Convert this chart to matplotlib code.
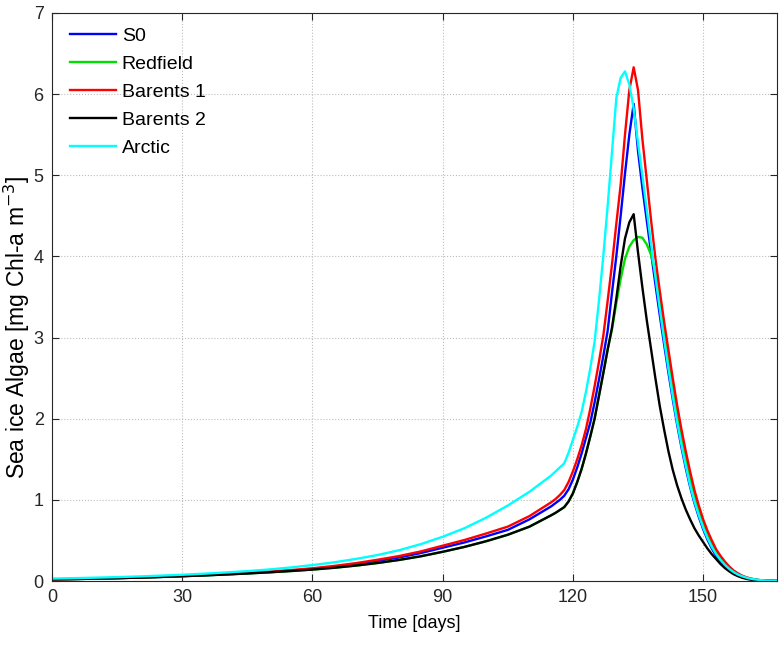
import matplotlib
matplotlib.use("Agg")
import matplotlib.pyplot as plt

plt.rcParams['font.family'] = ['Liberation Sans', 'DejaVu Sans']

days = list(range(0, 116, 5)) + list(range(116, 168))

s0 = [0.02, 0.024, 0.029, 0.035, 0.042, 0.05, 0.06, 0.07, 0.082, 0.095, 0.11, 0.127,
      0.147, 0.175, 0.208, 0.247, 0.29, 0.345, 0.41, 0.475, 0.55, 0.63, 0.76, 0.92,
      0.96, 1.0, 1.05,
      1.13, 1.25, 1.4, 1.57, 1.76, 1.95, 2.2, 2.48, 2.77, 3.08, 3.55, 4.0, 4.5, 5.02, 5.5,
      5.88, 5.3, 4.85, 4.45, 4.05, 3.66, 3.28, 2.92, 2.57, 2.24, 1.93, 1.65, 1.39, 1.16,
      0.96, 0.79, 0.64, 0.51, 0.4, 0.31, 0.24, 0.18, 0.135, 0.1, 0.072, 0.05, 0.035,
      0.023, 0.015, 0.009, 0.005, 0.003, 0.002, 0.001]

redfield = [0.02, 0.024, 0.029, 0.035, 0.042, 0.05, 0.059, 0.069, 0.08, 0.093, 0.107, 0.123,
            0.141, 0.163, 0.19, 0.222, 0.26, 0.305, 0.36, 0.42, 0.49, 0.57, 0.67, 0.81,
            0.84, 0.875, 0.91,
            0.98, 1.08, 1.22, 1.38, 1.57, 1.78, 2.0, 2.28, 2.56, 2.85, 3.1, 3.42, 3.72, 3.97, 4.12,
            4.2, 4.24, 4.23, 4.15, 4.02, 3.8, 3.5, 3.12, 2.75, 2.4, 2.07, 1.77, 1.5, 1.26,
            1.05, 0.87, 0.71, 0.57, 0.46, 0.36, 0.28, 0.22, 0.16, 0.12, 0.085, 0.06, 0.042,
            0.028, 0.018, 0.011, 0.006, 0.003, 0.002, 0.001]

barents1 = [0.02, 0.025, 0.03, 0.036, 0.043, 0.052, 0.062, 0.073, 0.086, 0.1, 0.116, 0.135,
            0.157, 0.186, 0.22, 0.262, 0.308, 0.365, 0.435, 0.505, 0.585, 0.67, 0.8, 0.97,
            1.01, 1.06, 1.12,
            1.22, 1.35, 1.5, 1.67, 1.87, 2.12, 2.4, 2.7, 3.02, 3.45, 3.9, 4.4, 4.88, 5.5, 6.05,
            6.33, 6.05, 5.45, 4.95, 4.45, 3.98, 3.58, 3.2, 2.85, 2.5, 2.17, 1.87, 1.6, 1.35,
            1.12, 0.93, 0.76, 0.62, 0.5, 0.39, 0.31, 0.24, 0.18, 0.13, 0.095, 0.065, 0.045,
            0.03, 0.018, 0.011, 0.006, 0.003, 0.002, 0.001]

barents2 = [0.02, 0.024, 0.029, 0.035, 0.042, 0.05, 0.059, 0.069, 0.08, 0.093, 0.107, 0.123,
            0.141, 0.163, 0.19, 0.222, 0.26, 0.305, 0.36, 0.42, 0.49, 0.57, 0.67, 0.81,
            0.84, 0.875, 0.91,
            0.98, 1.08, 1.22, 1.38, 1.57, 1.78, 2.0, 2.28, 2.56, 2.85, 3.12, 3.48, 3.88, 4.22, 4.42,
            4.52, 4.05, 3.62, 3.22, 2.86, 2.5, 2.16, 1.87, 1.6, 1.37, 1.18, 1.02, 0.88, 0.76,
            0.65, 0.56, 0.48, 0.4, 0.33, 0.27, 0.21, 0.16, 0.12, 0.085, 0.06, 0.04, 0.026,
            0.016, 0.01, 0.006, 0.003, 0.002, 0.001, 0.0]

arctic = [0.03, 0.035, 0.041, 0.048, 0.056, 0.066, 0.077, 0.09, 0.105, 0.122, 0.142, 0.167,
          0.196, 0.23, 0.272, 0.32, 0.38, 0.455, 0.545, 0.65, 0.78, 0.93, 1.1, 1.3,
          1.35, 1.4, 1.45,
          1.58, 1.74, 1.9, 2.08, 2.33, 2.62, 2.95, 3.45, 4.0, 4.62, 5.28, 5.95, 6.2, 6.28, 6.12,
          5.82, 5.4, 5.0, 4.58, 4.16, 3.75, 3.36, 2.98, 2.62, 2.28, 1.96, 1.68, 1.42, 1.18,
          0.98, 0.81, 0.66, 0.53, 0.42, 0.33, 0.26, 0.2, 0.15, 0.11, 0.08, 0.058, 0.041,
          0.028, 0.019, 0.013, 0.008, 0.005, 0.003, 0.002]

labels = ['S0', 'Redfield', 'Barents 1', 'Barents 2', 'Arctic']
colors = ['#0000ff', '#00e000', '#ff0000', '#000000', '#00ffff']
series = [s0, redfield, barents1, barents2, arctic]

xticks = [0, 30, 60, 90, 120, 150]
yticks = [0, 1, 2, 3, 4, 5, 6, 7]

fig = plt.figure(figsize=(7.82, 6.47), dpi=100)
ax = fig.add_axes([0.0665, 0.102, 0.927, 0.878])

for ys, c, lab in zip(series, colors, labels):
    ax.plot(days, ys, color=c, lw=1.7, label=lab)

ax.set_xlim(0, 167)
ax.set_ylim(0, 7)
ax.set_xticks(xticks)
ax.set_yticks(yticks)
ax.grid(True, linestyle=':', color='#bdbdbd', lw=0.8)
ax.set_axisbelow(True)
ax.tick_params(direction='in', top=True, right=True, length=5, width=0.8,
               labelsize=13, colors='#262626', pad=6)
for sp in ax.spines.values():
    sp.set_color('#262626')
    sp.set_linewidth(0.8)

ax.set_xlabel('Time [days]', fontsize=13, labelpad=6)
ax.set_ylabel('Sea ice Algae [mg Chl-a m$^{-3}$]', fontsize=16.5)
ax.yaxis.set_label_coords(-0.028, 0.447)

leg = ax.legend(loc='upper left', frameon=False, fontsize=14, handlelength=2.37,
                handletextpad=0.3, labelspacing=0.53, borderaxespad=0.0,
                bbox_to_anchor=(0.014, 0.988))

fig.savefig('out.png', dpi=100)
